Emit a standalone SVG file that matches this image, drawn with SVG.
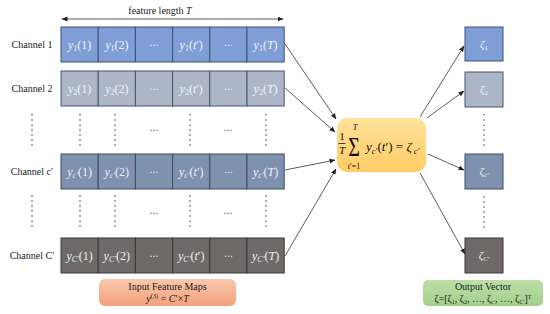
<svg xmlns="http://www.w3.org/2000/svg" width="550" height="314" viewBox="0 0 550 314">
<defs>
<marker id="ah" markerUnits="userSpaceOnUse" markerWidth="6" markerHeight="6" refX="5.5" refY="3" orient="auto-start-reverse"><path d="M0,0.6 L6,3 L0,5.4 z" fill="#222"/></marker>
<linearGradient id="gOr" x1="0" y1="0" x2="0" y2="1"><stop offset="0" stop-color="#FFE19A"/><stop offset="1" stop-color="#FFCC66"/></linearGradient>
<linearGradient id="gSa" x1="0" y1="0" x2="0" y2="1"><stop offset="0" stop-color="#F9C8AE"/><stop offset="1" stop-color="#F4A07C"/></linearGradient>
<linearGradient id="gGr" x1="0" y1="0" x2="0" y2="1"><stop offset="0" stop-color="#BCDFA8"/><stop offset="1" stop-color="#A3CF8A"/></linearGradient>
<style>
.lbl{font-family:"Liberation Serif","Times New Roman",serif;font-size:10px;fill:#1a1a1a}
.c{font-family:"Liberation Serif","Times New Roman",serif;font-size:12px;fill:#eef2f8;text-anchor:middle}
.i{font-style:italic}
.s{font-size:8px}
.r1{fill:#7F9ED6;stroke:#3E5275;stroke-width:1}
.r2{fill:#ACB6C8;stroke:#4A5568;stroke-width:1}
.r3{fill:#7E91AE;stroke:#3E4C63;stroke-width:1}
.r4{fill:#6E6A6A;stroke:#3A3A3A;stroke-width:1}
.dots{stroke:#444;stroke-width:1.6;stroke-linecap:round;stroke-dasharray:0 5;fill:none}
.ell{font-family:"DejaVu Sans",sans-serif;font-size:9px;fill:#444;text-anchor:middle}
.cell-ell{font-family:"DejaVu Sans",sans-serif;font-size:9px;fill:#eef2f8;text-anchor:middle}
.con{stroke:#333;stroke-width:0.8;fill:none;marker-end:url(#ah)}
.m{font-family:"Liberation Serif","Times New Roman",serif;fill:#111}
.oz{font-family:"Liberation Serif","Times New Roman",serif;font-size:11px;fill:#eef2f8;text-anchor:middle;font-style:italic}
</style>
</defs>
<rect width="550" height="314" fill="#fff"/>

<g id="length-arrow">
<line x1="62" y1="19" x2="283" y2="19" stroke="#333" stroke-width="0.8" marker-start="url(#ah)" marker-end="url(#ah)"/>
<text x="160" y="14" class="lbl" text-anchor="middle">feature length <tspan class="i">T</tspan></text>
</g>

<g id="channel-1">
<text x="32" y="48" class="lbl" text-anchor="middle">Channel 1</text>
<rect x="61" y="27" width="37.2" height="35" class="r1"/><rect x="98.2" y="27" width="37.2" height="35" class="r1"/><rect x="135.4" y="27" width="37.2" height="35" class="r1"/><rect x="172.6" y="27" width="37.2" height="35" class="r1"/><rect x="209.8" y="27" width="37.2" height="35" class="r1"/><rect x="247" y="27" width="37.2" height="35" class="r1"/>
<text x="79.6" y="48.5" class="c"><tspan class="i">y</tspan><tspan class="s" dy="2.5">1</tspan><tspan dy="-2.5">(1)</tspan></text>
<text x="116.8" y="48.5" class="c"><tspan class="i">y</tspan><tspan class="s" dy="2.5">1</tspan><tspan dy="-2.5">(2)</tspan></text>
<text x="154" y="47.5" class="cell-ell">⋯</text>
<text x="191.2" y="48.5" class="c"><tspan class="i">y</tspan><tspan class="s" dy="2.5">1</tspan><tspan dy="-2.5">(</tspan><tspan class="i">t</tspan>′)</text>
<text x="228.4" y="47.5" class="cell-ell">⋯</text>
<text x="265.6" y="48.5" class="c"><tspan class="i">y</tspan><tspan class="s" dy="2.5">1</tspan><tspan dy="-2.5">(</tspan><tspan class="i">T</tspan>)</text>
</g>

<g id="channel-2">
<text x="32" y="92" class="lbl" text-anchor="middle">Channel 2</text>
<rect x="61" y="71" width="37.2" height="35" class="r2"/><rect x="98.2" y="71" width="37.2" height="35" class="r2"/><rect x="135.4" y="71" width="37.2" height="35" class="r2"/><rect x="172.6" y="71" width="37.2" height="35" class="r2"/><rect x="209.8" y="71" width="37.2" height="35" class="r2"/><rect x="247" y="71" width="37.2" height="35" class="r2"/>
<text x="79.6" y="92.5" class="c"><tspan class="i">y</tspan><tspan class="s" dy="2.5">2</tspan><tspan dy="-2.5">(1)</tspan></text>
<text x="116.8" y="92.5" class="c"><tspan class="i">y</tspan><tspan class="s" dy="2.5">2</tspan><tspan dy="-2.5">(2)</tspan></text>
<text x="154" y="91.5" class="cell-ell">⋯</text>
<text x="191.2" y="92.5" class="c"><tspan class="i">y</tspan><tspan class="s" dy="2.5">2</tspan><tspan dy="-2.5">(</tspan><tspan class="i">t</tspan>′)</text>
<text x="228.4" y="91.5" class="cell-ell">⋯</text>
<text x="265.6" y="92.5" class="c"><tspan class="i">y</tspan><tspan class="s" dy="2.5">2</tspan><tspan dy="-2.5">(</tspan><tspan class="i">T</tspan>)</text>
</g>

<g id="gap-1">
<line x1="32" y1="115" x2="32" y2="146" class="dots"/>
<line x1="80" y1="115" x2="80" y2="146" class="dots"/>
<line x1="115" y1="115" x2="115" y2="146" class="dots"/>
<line x1="190" y1="115" x2="190" y2="146" class="dots"/>
<line x1="266" y1="115" x2="266" y2="146" class="dots"/>
<text x="154" y="133" class="ell">⋯</text>
<text x="228" y="133" class="ell">⋯</text>
</g>

<g id="channel-c-prime">
<text x="32" y="175" class="lbl" text-anchor="middle">Channel c′</text>
<rect x="61" y="154" width="37.2" height="35" class="r3"/><rect x="98.2" y="154" width="37.2" height="35" class="r3"/><rect x="135.4" y="154" width="37.2" height="35" class="r3"/><rect x="172.6" y="154" width="37.2" height="35" class="r3"/><rect x="209.8" y="154" width="37.2" height="35" class="r3"/><rect x="247" y="154" width="37.2" height="35" class="r3"/>
<text x="79.6" y="175.5" class="c"><tspan class="i">y</tspan><tspan class="s i" dy="2.5">c′</tspan><tspan dy="-2.5">(1)</tspan></text>
<text x="116.8" y="175.5" class="c"><tspan class="i">y</tspan><tspan class="s i" dy="2.5">c′</tspan><tspan dy="-2.5">(2)</tspan></text>
<text x="154" y="174.5" class="cell-ell">⋯</text>
<text x="191.2" y="175.5" class="c"><tspan class="i">y</tspan><tspan class="s i" dy="2.5">c′</tspan><tspan dy="-2.5">(</tspan><tspan class="i">t</tspan>′)</text>
<text x="228.4" y="174.5" class="cell-ell">⋯</text>
<text x="265.6" y="175.5" class="c"><tspan class="i">y</tspan><tspan class="s i" dy="2.5">c′</tspan><tspan dy="-2.5">(</tspan><tspan class="i">T</tspan>)</text>
</g>

<g id="gap-2">
<line x1="32" y1="196" x2="32" y2="230" class="dots"/>
<line x1="80" y1="196" x2="80" y2="230" class="dots"/>
<line x1="115" y1="196" x2="115" y2="230" class="dots"/>
<line x1="190" y1="196" x2="190" y2="230" class="dots"/>
<line x1="266" y1="196" x2="266" y2="230" class="dots"/>
<text x="154" y="216" class="ell">⋯</text>
<text x="228" y="216" class="ell">⋯</text>
</g>

<g id="channel-C-prime">
<text x="32" y="259" class="lbl" text-anchor="middle">Channel C′</text>
<rect x="61" y="238" width="37.2" height="35" class="r4"/><rect x="98.2" y="238" width="37.2" height="35" class="r4"/><rect x="135.4" y="238" width="37.2" height="35" class="r4"/><rect x="172.6" y="238" width="37.2" height="35" class="r4"/><rect x="209.8" y="238" width="37.2" height="35" class="r4"/><rect x="247" y="238" width="37.2" height="35" class="r4"/>
<text x="79.6" y="259.5" class="c"><tspan class="i">y</tspan><tspan class="s i" dy="2.5">C′</tspan><tspan dy="-2.5">(1)</tspan></text>
<text x="116.8" y="259.5" class="c"><tspan class="i">y</tspan><tspan class="s i" dy="2.5">C′</tspan><tspan dy="-2.5">(2)</tspan></text>
<text x="154" y="258.5" class="cell-ell">⋯</text>
<text x="191.2" y="259.5" class="c"><tspan class="i">y</tspan><tspan class="s i" dy="2.5">C′</tspan><tspan dy="-2.5">(</tspan><tspan class="i">t</tspan>′)</text>
<text x="228.4" y="258.5" class="cell-ell">⋯</text>
<text x="265.6" y="259.5" class="c"><tspan class="i">y</tspan><tspan class="s i" dy="2.5">C′</tspan><tspan dy="-2.5">(</tspan><tspan class="i">T</tspan>)</text>
</g>

<g id="average-node">
<rect x="337" y="118" width="89" height="54" rx="10" fill="url(#gOr)"/>
<text x="342" y="140" class="m" font-size="11" text-anchor="middle">1</text>
<line x1="338.5" y1="143.5" x2="345.5" y2="143.5" stroke="#111" stroke-width="0.8"/>
<text x="342" y="153.5" class="m i" font-size="11" text-anchor="middle">T</text>
<text transform="translate(354,156) scale(1,1.35)" class="m" font-size="20" text-anchor="middle">Σ</text>
<text x="355" y="130" class="m i" font-size="8.5" text-anchor="middle">T</text>
<text x="354" y="169" class="m" font-size="8" text-anchor="middle"><tspan class="i">t</tspan>′=1</text>
<text x="366" y="151" class="m" font-size="13"><tspan class="i">y</tspan><tspan class="i" font-size="8.5" dy="2.5">c′</tspan><tspan dy="-2.5">(</tspan><tspan class="i">t</tspan>′) = <tspan class="i">ζ</tspan><tspan class="i" font-size="8.5" dy="2.5" dx="2">c′</tspan></text>
</g>

<g id="zeta-1"><rect x="465" y="27" width="38" height="34" class="r1"/><text x="484" y="48" class="oz">ζ<tspan font-size="7" dy="2" font-style="normal">1</tspan></text></g>
<g id="zeta-2"><rect x="465" y="72" width="38" height="35" class="r2"/><text x="484" y="93" class="oz">ζ<tspan font-size="7" dy="2" font-style="normal">2</tspan></text></g>
<g id="zeta-gap"><line x1="484" y1="115" x2="484" y2="146" class="dots"/><line x1="484" y1="197" x2="484" y2="229" class="dots"/></g>
<g id="zeta-c-prime"><rect x="465" y="154" width="38" height="35" class="r3"/><text x="484" y="175" class="oz">ζ<tspan font-size="7" dy="2">c′</tspan></text></g>
<g id="zeta-C-prime"><rect x="465" y="238" width="38" height="35" class="r4"/><text x="484" y="259" class="oz">ζ<tspan font-size="7" dy="2">C′</tspan></text></g>

<g id="connectors">
<line x1="285" y1="44" x2="336" y2="119" class="con"/>
<line x1="285" y1="88" x2="335" y2="132" class="con"/>
<line x1="285" y1="170" x2="335" y2="160" class="con"/>
<line x1="285" y1="256" x2="336" y2="169" class="con"/>
<line x1="420" y1="117" x2="464" y2="46" class="con"/>
<line x1="427" y1="118" x2="464" y2="91" class="con"/>
<line x1="428" y1="154" x2="464" y2="170" class="con"/>
<line x1="420" y1="173" x2="465" y2="254" class="con"/>
</g>

<g id="input-label">
<rect x="99" y="279" width="137" height="27" rx="6" fill="url(#gSa)"/>
<text x="167.5" y="290" class="lbl" font-size="10.5" text-anchor="middle">Input Feature Maps</text>
<text x="167.5" y="302" class="lbl" text-anchor="middle"><tspan class="i">y</tspan><tspan font-size="6.5" dy="-4">(3)</tspan><tspan dy="4"> = </tspan><tspan class="i">C</tspan>′×<tspan class="i">T</tspan></text>
</g>

<g id="output-label">
<rect x="423" y="280" width="120" height="26" rx="5" fill="url(#gGr)"/>
<text x="483" y="290" class="lbl" text-anchor="middle">Output Vector</text>
<text x="483" y="302" class="lbl" font-size="9.5" text-anchor="middle">ζ=[ζ<tspan font-size="6" dy="1.5">1</tspan><tspan dy="-1.5">, ζ</tspan><tspan font-size="6" dy="1.5">2</tspan><tspan dy="-1.5">, …, ζ</tspan><tspan font-size="6" dy="1.5">c′</tspan><tspan dy="-1.5">, …, ζ</tspan><tspan font-size="6" dy="1.5">C′</tspan><tspan dy="-1.5">]</tspan><tspan font-size="6" dy="-3.5">T</tspan></text>
</g>
</svg>
